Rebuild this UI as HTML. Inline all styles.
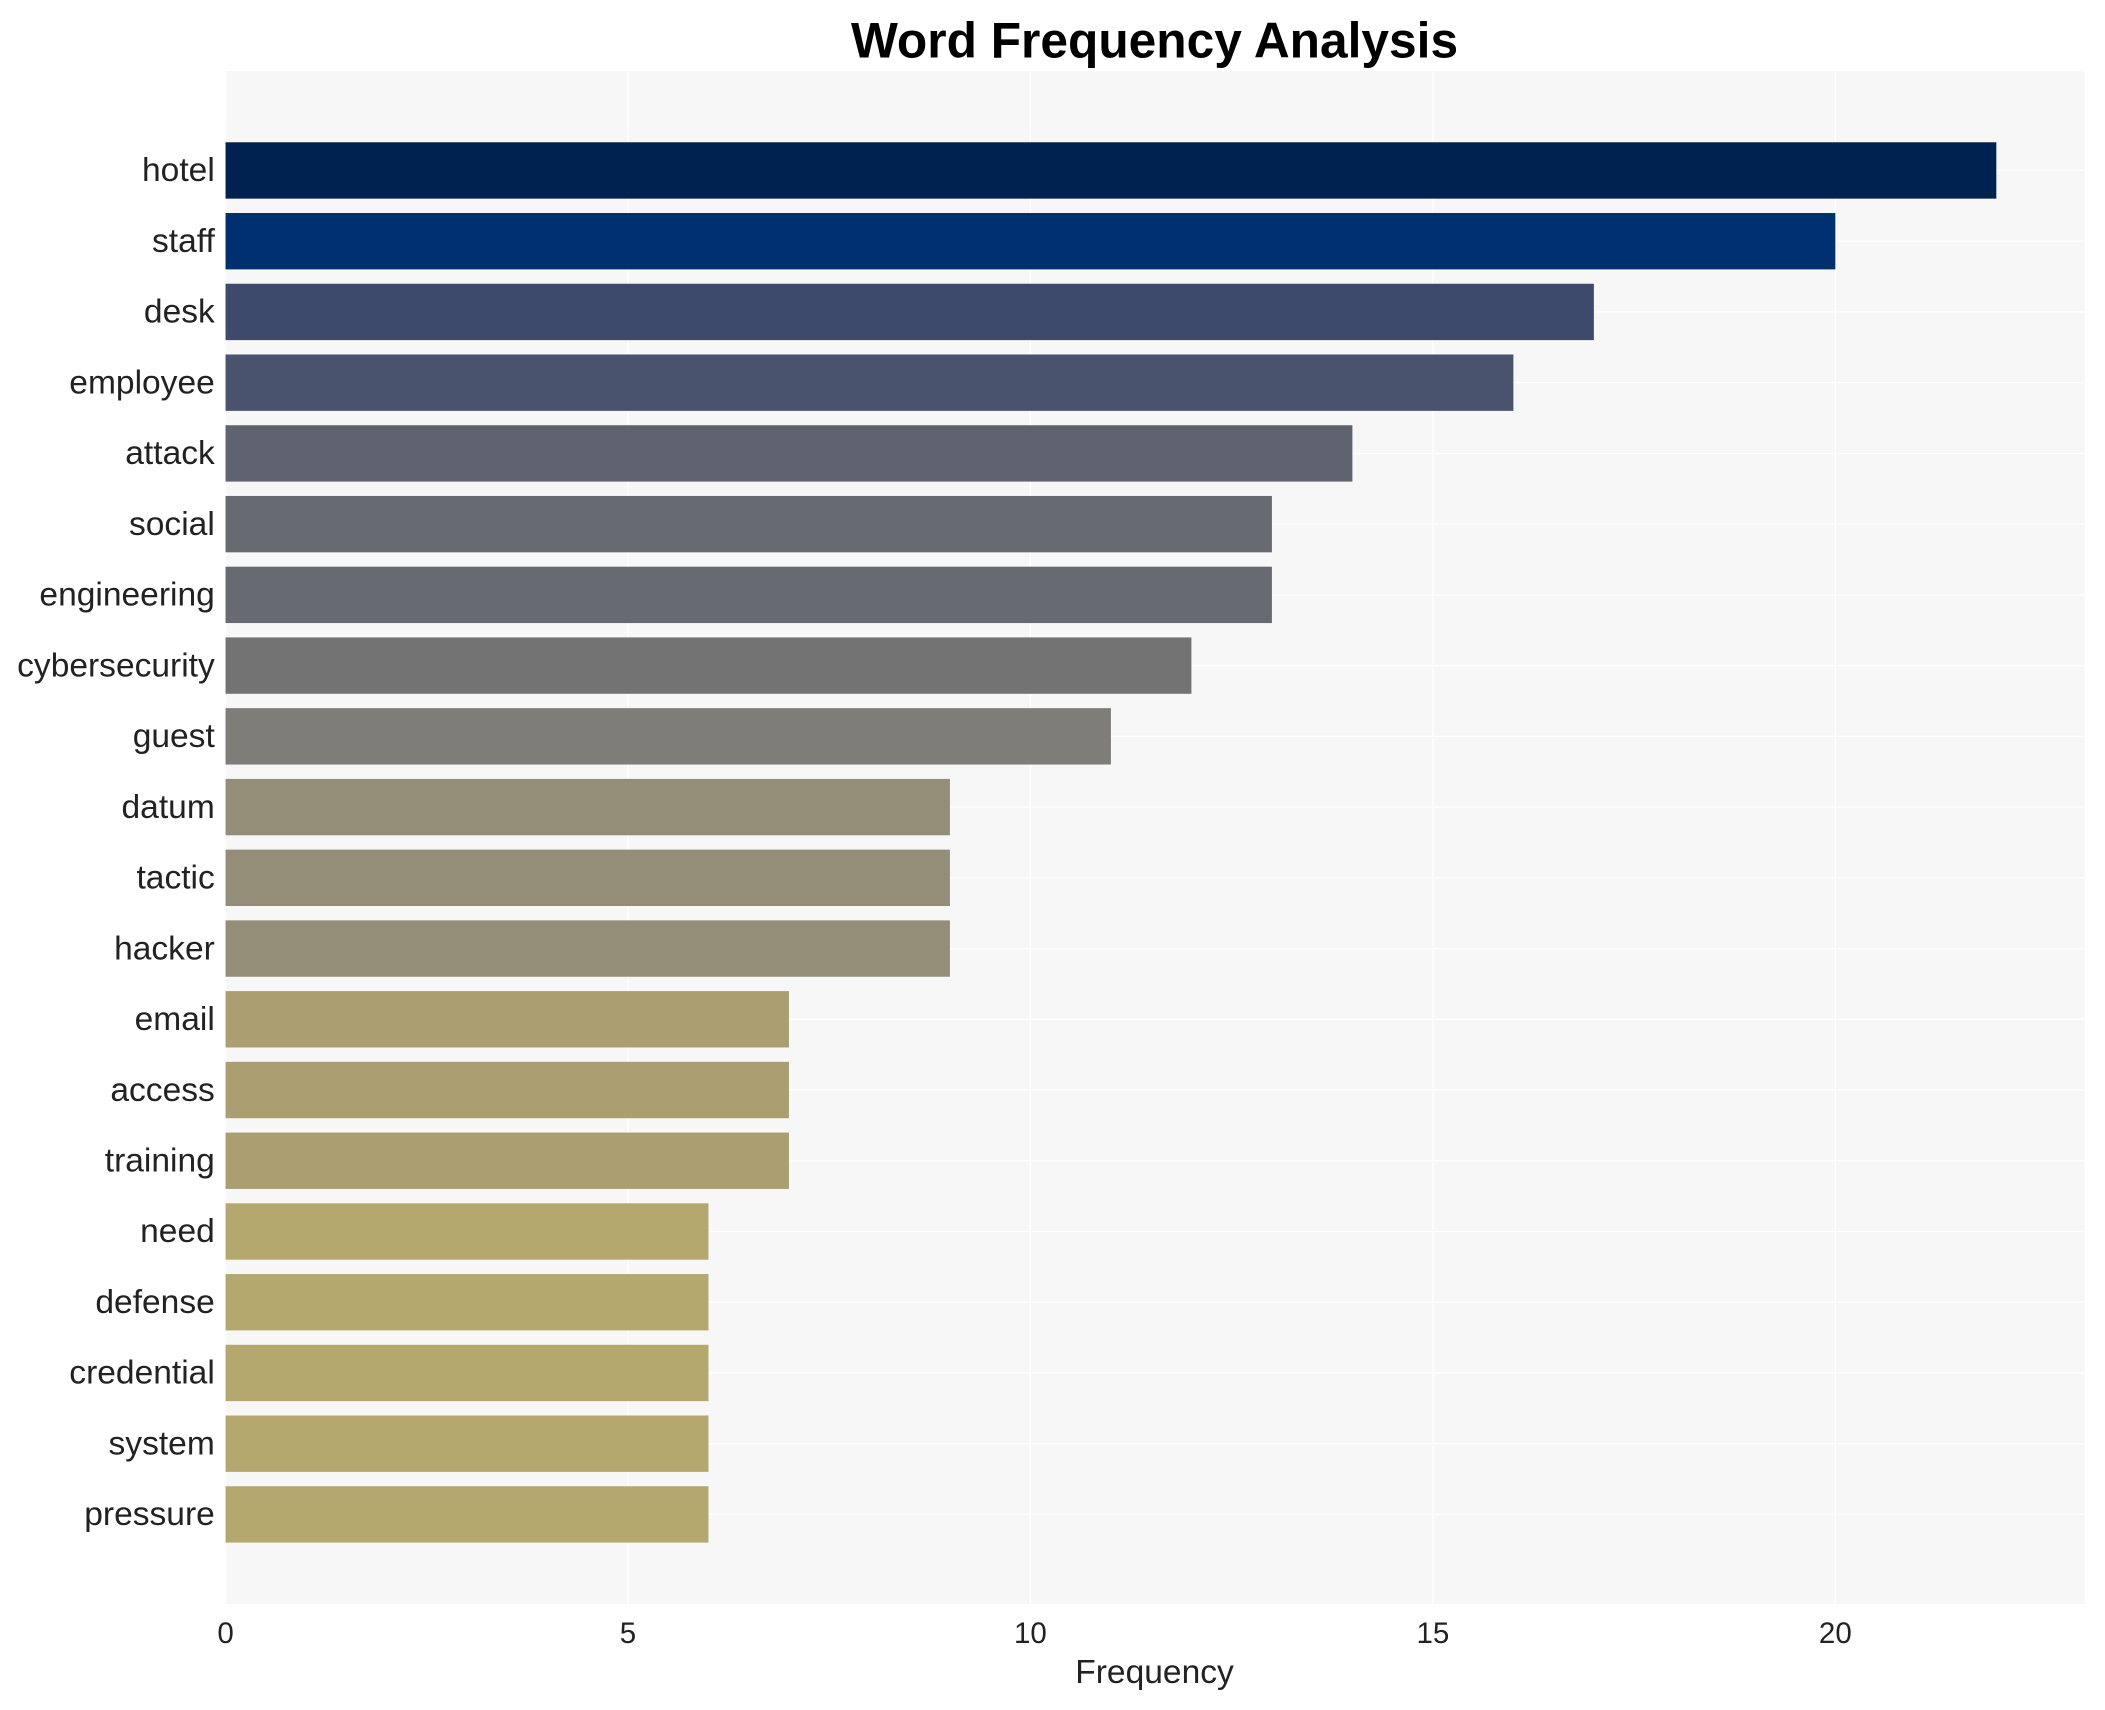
<!DOCTYPE html>
<html><head><meta charset="utf-8"><style>
html,body{margin:0;padding:0;background:#fff;}
svg{display:block;font-family:"Liberation Sans",Arial,sans-serif;}
</style></head><body>
<svg id="chart" width="2105" height="1710" viewBox="0 0 1568 1274" preserveAspectRatio="none" xmlns="http://www.w3.org/2000/svg"></svg>
<script>
const categories = ["hotel","staff","desk","employee","attack","social","engineering","cybersecurity","guest","datum","tactic","hacker","email","access","training","need","defense","credential","system","pressure"];
const values = [22,20,17,16,14,13,13,12,11,9,9,9,7,7,7,6,6,6,6,6];
const colors = ["#002251","#003070","#3d4a6b","#49536e","#5f6370","#686a72","#686a72","#737374","#7f7d77","#948d77","#948d77","#948d77","#ab9f72","#ab9f72","#ab9f72","#b4a86f","#b4a86f","#b4a86f","#b4a86f","#b4a86f"];
const xTicks = [0,5,10,15,20];

const NS = "http://www.w3.org/2000/svg";
const svg = document.getElementById("chart");
const L = 168, R = 1553, T = 53, B = 1195;
const xMax = 23.1;
const xs = v => L + v / xMax * (R - L);
const step = 52.7, firstC = 127, barH = 42;
const yc = i => firstC + i * step;
function mk(tag, attrs, txt){
  const e = document.createElementNS(NS, tag);
  for (const k in attrs) e.setAttribute(k, attrs[k]);
  if (txt !== undefined) e.textContent = txt;
  svg.appendChild(e);
  return e;
}
let e = mk("rect",{x:L,y:T,width:R-L,height:B-T,fill:"#f7f7f7"});


xTicks.forEach(t=>{
  let g = mk("line",{x1:xs(t),x2:xs(t),y1:T,y2:B,stroke:"#ffffff","stroke-width":1});
  
  
  let lb = mk("text",{x:xs(t),y:B+29,"text-anchor":"middle","font-size":22,fill:"#222"},String(t));
  
  
});
categories.forEach((c,i)=>{
  let g = mk("line",{x1:L,x2:R,y1:yc(i),y2:yc(i),stroke:"#ffffff","stroke-width":1});
  
  
});
categories.forEach((c,i)=>{
  let b = mk("rect",{x:xs(0),y:yc(i)-barH/2,width:xs(values[i])-xs(0),height:barH,fill:colors[i]});
  
  
  let lb = mk("text",{x:L-8,y:yc(i)+8,"text-anchor":"end","font-size":25,fill:"#222"},c);
  
  
});
let t = mk("text",{x:860,y:43,"text-anchor":"middle","font-size":37,"font-weight":"bold",fill:"#000"},"Word Frequency Analysis");


let xl = mk("text",{x:860,y:1254,"text-anchor":"middle","font-size":25,fill:"#222"},"Frequency");


</script>
</body></html>
